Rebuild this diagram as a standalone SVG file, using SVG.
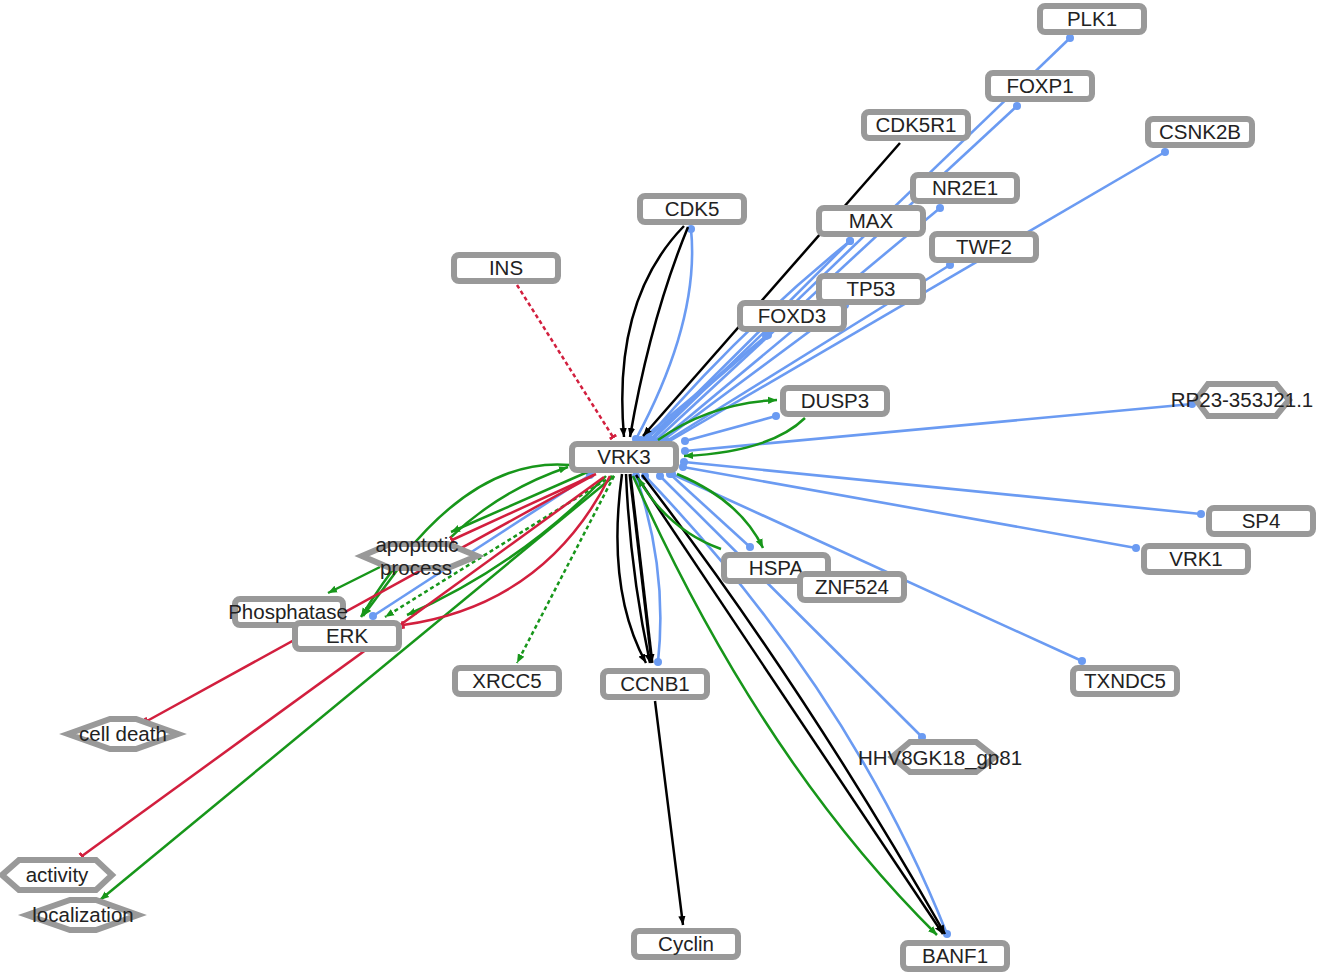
<svg xmlns="http://www.w3.org/2000/svg" width="1320" height="974" viewBox="0 0 1320 974">
<style>
.n rect, .n polygon { fill: #fff; stroke: #999; stroke-width: 6; }
.n text { font-family: "Liberation Sans", Arial, sans-serif; font-size: 20.5px; fill: #222; text-anchor: middle; }
.e path { fill: none; }
.b { stroke: #6b9bf2; stroke-width: 2.6; marker-start: url(#db); marker-end: url(#db); }
.k { stroke: #000; stroke-width: 2.5; marker-end: url(#ak); }
.g { stroke: #17961a; stroke-width: 2.5; marker-end: url(#ag); }
.r { stroke: #d21f3e; stroke-width: 2.5; marker-end: url(#tr); }
.d { stroke-dasharray: 4 3; }
</style>
<defs>
<marker id="db" viewBox="0 0 10 10" refX="5" refY="5" markerWidth="8" markerHeight="8" markerUnits="userSpaceOnUse"><circle cx="5" cy="5" r="5" fill="#6b9bf2"/></marker>
<marker id="ak" viewBox="0 0 10 10" refX="10" refY="5" markerWidth="9" markerHeight="9" markerUnits="userSpaceOnUse" orient="auto"><path d="M0,1 L10,5 L0,9 z" fill="#000"/></marker>
<marker id="ag" viewBox="0 0 10 10" refX="10" refY="5" markerWidth="9" markerHeight="9" markerUnits="userSpaceOnUse" orient="auto"><path d="M0,1 L10,5 L0,9 z" fill="#17961a"/></marker>
<marker id="tr" viewBox="0 0 4 10" refX="2" refY="5" markerWidth="3" markerHeight="9" markerUnits="userSpaceOnUse" orient="auto"><rect x="0" y="0" width="4" height="10" fill="#d21f3e"/></marker>
</defs>
<rect width="1320" height="974" fill="#fff"/>
<g id="connectors" class="e">
<path class="b" d="M652 440 L1070 38"/>
<path class="b" d="M655 441 L1017 106"/>
<path class="b" d="M668 442 L1165 152"/>
<path class="b" d="M660 441 L940 208"/>
<path class="b" d="M650 440 L850 241"/>
<path class="b" d="M646 440 Q740 330 850 241"/>
<path class="b" d="M665 442 L950 265"/>
<path class="b" d="M662 441 L845 305"/>
<path class="b" d="M645 440 L768 335"/>
<path class="b" d="M641 440 L766 336"/>
<path class="b" d="M636 439 Q700 320 691 229"/>
<path class="b" d="M685 441 L776 416"/>
<path class="b" d="M685 451 L1192 404"/>
<path class="b" d="M684 462 L1201 514"/>
<path class="b" d="M683 467 L1136 548"/>
<path class="b" d="M670 474 L750 547"/>
<path class="b" d="M672 474 L1082 661"/>
<path class="b" d="M660 476 L922 737"/>
<path class="b" d="M636 476 Q668 570 658 662"/>
<path class="b" d="M645 476 Q850 690 947 934"/>
<path class="b" d="M590 475 L373 616"/>
<path class="k" d="M684 226 Q612 300 624 437"/>
<path class="k" d="M688 227 Q650 320 630 437"/>
<path class="k" d="M900 143 L643 436"/>
<path class="k" d="M622 474 Q606 590 646 663"/>
<path class="k" d="M626 474 Q630 570 650 663"/>
<path class="k" style="stroke-width:3.2" d="M630 474 L652 663"/>
<path class="k" d="M636 475 L943 934"/>
<path class="k" d="M642 475 Q800 680 945 934"/>
<path class="k" d="M655 701 L683 925"/>
<path class="g" d="M658 440 Q710 403 777 400"/>
<path class="g" d="M805 418 Q770 452 684 456"/>
<path class="g" d="M677 474 Q740 500 763 548"/>
<path class="g" d="M721 549 Q668 530 638 478"/>
<path class="g" d="M633 476 Q760 760 937 935"/>
<path class="g" d="M592 470 L451 532"/>
<path class="g" d="M450 538 Q500 490 568 467"/>
<path class="g" d="M570 465 Q460 455 361 617"/>
<path class="g" d="M398 569 L363 616"/>
<path class="g" d="M380 567 L328 593"/>
<path class="g" d="M606 476 Q520 565 407 615"/>
<path class="g d" d="M612 476 L385 617"/>
<path class="g d" d="M614 476 L517 663"/>
<path class="g" d="M614 476 L100 900"/>
<path class="r d" d="M517 285 L613 437"/>
<path class="r" d="M596 474 L452 540"/>
<path class="r" d="M610 476 Q545 605 403 625"/>
<path class="r" d="M594 475 L147 721"/>
<path class="r" d="M604 477 L82 856"/>
</g>
<g id="PLK1" class="n"><rect x="1040" y="6" width="104" height="26" rx="5"/><text x="1092" y="26">PLK1</text></g>
<g id="FOXP1" class="n"><rect x="988" y="73" width="104" height="26" rx="5"/><text x="1040" y="93">FOXP1</text></g>
<g id="CDK5R1" class="n"><rect x="864" y="112" width="104" height="26" rx="5"/><text x="916" y="132">CDK5R1</text></g>
<g id="CSNK2B" class="n"><rect x="1148" y="119" width="104" height="26" rx="5"/><text x="1200" y="139">CSNK2B</text></g>
<g id="NR2E1" class="n"><rect x="913" y="175" width="104" height="26" rx="5"/><text x="965" y="195">NR2E1</text></g>
<g id="CDK5" class="n"><rect x="640" y="196" width="104" height="26" rx="5"/><text x="692" y="216">CDK5</text></g>
<g id="MAX" class="n"><rect x="819" y="208" width="104" height="26" rx="5"/><text x="871" y="228">MAX</text></g>
<g id="TWF2" class="n"><rect x="932" y="234" width="104" height="26" rx="5"/><text x="984" y="254">TWF2</text></g>
<g id="INS" class="n"><rect x="454" y="255" width="104" height="26" rx="5"/><text x="506" y="275">INS</text></g>
<g id="TP53" class="n"><rect x="819" y="276" width="104" height="26" rx="5"/><text x="871" y="296">TP53</text></g>
<g id="FOXD3" class="n"><rect x="740" y="303" width="104" height="26" rx="5"/><text x="792" y="323">FOXD3</text></g>
<g id="DUSP3" class="n"><rect x="783" y="388" width="104" height="26" rx="5"/><text x="835" y="408">DUSP3</text></g>
<g id="RP23-353J21.1" class="n"><polygon points="1196,400 1208,384 1276,384 1289,400 1276,416 1208,416"/><text x="1242" y="407">RP23-353J21.1</text></g>
<g id="VRK3" class="n"><rect x="572" y="444" width="104" height="26" rx="5"/><text x="624" y="464">VRK3</text></g>
<g id="SP4" class="n"><rect x="1209" y="508" width="104" height="26" rx="5"/><text x="1261" y="528">SP4</text></g>
<g id="VRK1" class="n"><rect x="1144" y="546" width="104" height="26" rx="5"/><text x="1196" y="566">VRK1</text></g>
<g id="HSPA" class="n"><rect x="724" y="555" width="104" height="26" rx="5"/><text x="776" y="575">HSPA</text></g>
<g id="ZNF524" class="n"><rect x="800" y="574" width="104" height="26" rx="5"/><text x="852" y="594">ZNF524</text></g>
<g id="apoptotic-process" class="n"><polygon points="362,556 390,544 448,544 477,556 448,568 390,568"/><text x="417" y="552">apoptotic</text><text x="416" y="575">process</text></g>
<g id="Phosphatase" class="n"><rect x="235" y="599" width="108" height="26" rx="5"/><text x="288" y="619">Phosphatase</text></g>
<g id="ERK" class="n"><rect x="295" y="623" width="104" height="26" rx="5"/><text x="347" y="643">ERK</text></g>
<g id="XRCC5" class="n"><rect x="455" y="668" width="104" height="26" rx="5"/><text x="507" y="688">XRCC5</text></g>
<g id="CCNB1" class="n"><rect x="603" y="671" width="104" height="26" rx="5"/><text x="655" y="691">CCNB1</text></g>
<g id="TXNDC5" class="n"><rect x="1073" y="668" width="104" height="26" rx="5"/><text x="1125" y="688">TXNDC5</text></g>
<g id="cell-death" class="n"><polygon points="68,734 110,719 136,719 178,734 136,749 110,749"/><text x="123" y="741">cell death</text></g>
<g id="HHV8GK18_gp81" class="n"><polygon points="892,757 910,742 976,742 995,757 976,772 910,772"/><text x="940" y="765">HHV8GK18_gp81</text></g>
<g id="activity" class="n"><polygon points="2,875 19,860 96,860 112,875 96,890 19,890"/><text x="57" y="882">activity</text></g>
<g id="localization" class="n"><polygon points="27,915 70,900 96,900 138,915 96,930 70,930"/><text x="83" y="922">localization</text></g>
<g id="Cyclin" class="n"><rect x="634" y="931" width="104" height="26" rx="5"/><text x="686" y="951">Cyclin</text></g>
<g id="BANF1" class="n"><rect x="903" y="943" width="104" height="26" rx="5"/><text x="955" y="963">BANF1</text></g>
</svg>
